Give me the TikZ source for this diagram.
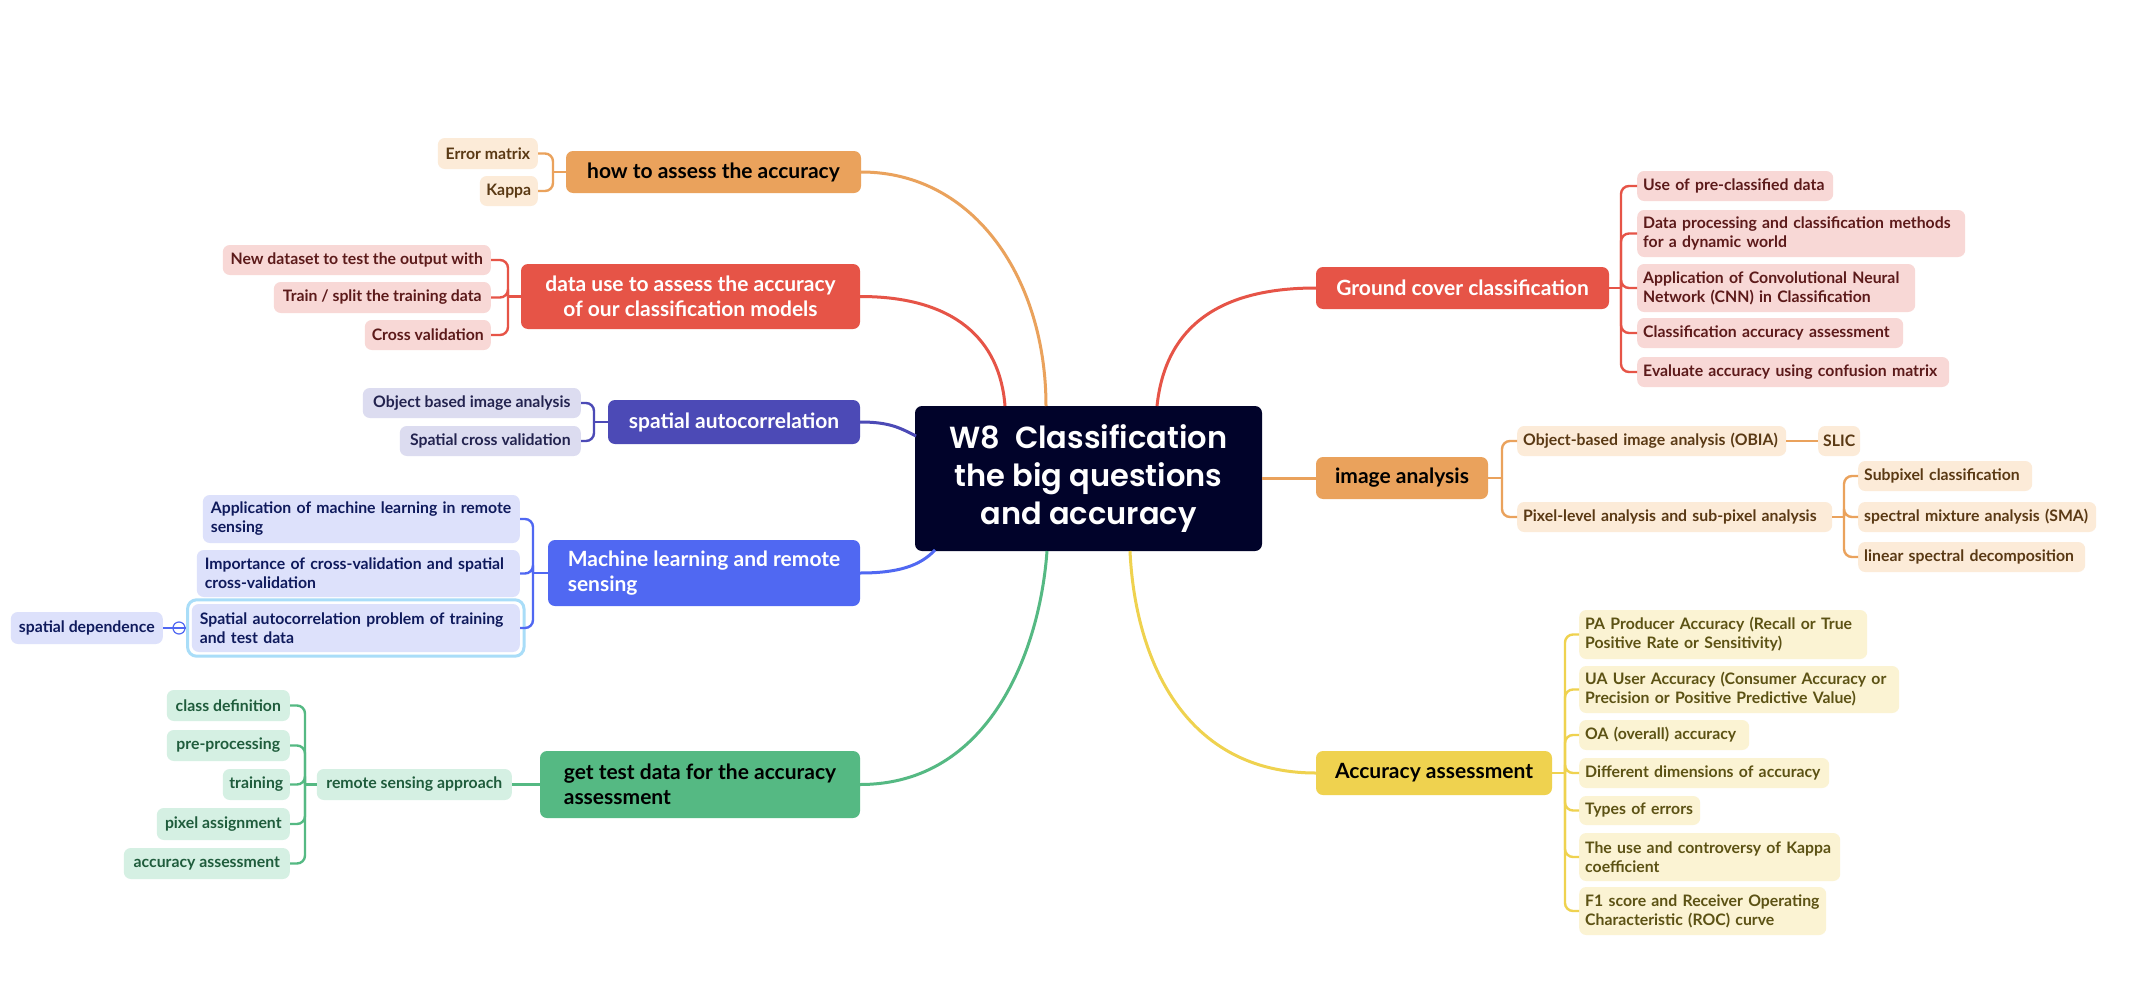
\documentclass[tikz,border=0pt]{standalone}
\usepackage{fontspec}
\setmainfont{Lato}
\newfontfamily\titlefont{Poppins SemiBold}
\usetikzlibrary{fit}
\definecolor{cnavy}{HTML}{01032A}
\definecolor{orM}{HTML}{EAA25C}\definecolor{orS}{HTML}{FCEBD8}\definecolor{orT}{HTML}{5A3914}
\definecolor{rdM}{HTML}{E65447}\definecolor{rdS}{HTML}{F8D8D6}\definecolor{rdT}{HTML}{5C1A1A}
\definecolor{inM}{HTML}{4C4AB6}\definecolor{inS}{HTML}{DCDCF0}\definecolor{inT}{HTML}{23234F}
\definecolor{blM}{HTML}{5068F2}\definecolor{blS}{HTML}{DDE1FB}\definecolor{blT}{HTML}{0F1A5C}
\definecolor{grM}{HTML}{55B983}\definecolor{grS}{HTML}{D5F0E3}\definecolor{grT}{HTML}{1F5C3C}
\definecolor{ylM}{HTML}{EFD24F}\definecolor{ylS}{HTML}{FBF3D3}\definecolor{ylT}{HTML}{5C5214}
\definecolor{hlB}{HTML}{A9DDF8}
\tikzset{
  hub/.style={fill=cnavy, rounded corners=7pt, text=white, align=center,
    font=\titlefont\fontsize{30.5}{38}\selectfont, minimum width=347pt, minimum height=145pt, inner sep=0pt},
  topic/.style={rounded corners=7pt, font=\bfseries\fontsize{21}{25}\selectfont, inner sep=0pt, align=center},
  sub/.style={rounded corners=7pt, font=\bfseries\fontsize{15.8}{19}\selectfont, inner xsep=5pt, inner ysep=0pt, align=center},
  subL/.style={sub, align=left},
  subR/.style={rounded corners=7pt, font=\bfseries\fontsize{15.8}{19}\selectfont, inner xsep=6pt, inner ysep=0pt, align=left, anchor=west},
  link/.style={line width=3pt},
  brace/.style={line width=2.4pt, rounded corners=8pt},
}
\begin{document}
\begin{tikzpicture}[x=1pt,y=-1pt]
\useasboundingbox[fill=white] (0,0) rectangle (2134,982);
% ---------- hub
\node[hub] (c) at (1088.5,478.5) {W8\ \ Classification\\the big questions\\and accuracy};
% ---------- main topics
\node[topic, fill=orM, text=black, minimum width=295pt, minimum height=42pt] (A) at (713.5,172) {how to assess the accuracy};
\node[topic, fill=rdM, text=white, minimum width=339pt, minimum height=65pt] (B) at (690.5,296.5) {data use to assess the accuracy\\of our classification models};
\node[topic, fill=inM, text=white, minimum width=252pt, minimum height=44pt] (C) at (734,422) {spatial autocorrelation};
\node[topic, fill=blM, text=white, minimum width=312pt, minimum height=66pt, align=left] (D) at (704,573) {Machine learning and remote\\sensing};
\node[topic, fill=grM, text=black, minimum width=320pt, minimum height=67pt, align=left] (E) at (700,784.5) {get test data for the accuracy\\assessment};
\node[topic, fill=rdM, text=white, minimum width=293pt, minimum height=42pt] (F) at (1462.5,288) {Ground cover classification};
\node[topic, fill=orM, text=black, minimum width=172pt, minimum height=42pt] (G) at (1402,478) {image analysis};
\node[topic, fill=ylM, text=black, minimum width=236pt, minimum height=44pt] (H) at (1434,773) {Accuracy assessment};
% ---------- A children
\node[sub, fill=orS, text=orT, minimum width=100pt, minimum height=31pt, anchor=east] (A1) at (538,153.5) {Error matrix};
\node[sub, fill=orS, text=orT, minimum width=58pt, minimum height=30pt, anchor=east] (A2) at (538,191) {Kappa};
% ---------- B children
\node[sub, fill=rdS, text=rdT, minimum width=268pt, minimum height=30pt, anchor=east] (B1) at (491,260) {New dataset to test the output with};
\node[sub, fill=rdS, text=rdT, minimum width=217pt, minimum height=31pt, anchor=east] (B2) at (491,297.5) {Train / split the training data};
\node[sub, fill=rdS, text=rdT, minimum width=126pt, minimum height=30pt, anchor=east] (B3) at (491,335) {Cross validation};
% ---------- C children
\node[sub, fill=inS, text=inT, minimum width=218pt, minimum height=30pt, anchor=east] (C1) at (581,403) {Object based image analysis};
\node[sub, fill=inS, text=inT, minimum width=181pt, minimum height=30pt, anchor=east] (C2) at (581,441) {Spatial cross validation};
% ---------- D children
\node[subL, fill=blS, text=blT, minimum width=317pt, minimum height=48pt, text width=301pt, anchor=east] (D1) at (520,519) {Application of machine learning in remote\\sensing};
\node[subL, fill=blS, text=blT, minimum width=323pt, minimum height=47pt, text width=307pt, anchor=east] (D2) at (520,573.5) {Importance of cross-validation and spatial\\cross-validation};
\node[subL, fill=blS, text=blT, minimum width=328pt, minimum height=48pt, text width=312pt, anchor=east] (D3) at (520,628) {Spatial autocorrelation problem of training\\and test data};
\node[draw=hlB, line width=3pt, rounded corners=9pt, fit=(D3), inner sep=4pt] (D3h) {};
\node[sub, fill=blS, text=blT, minimum width=152pt, minimum height=32pt, anchor=east] (D4) at (163,628) {spatial dependence};
% ---------- E children
\node[sub, fill=grS, text=grT, minimum width=195pt, minimum height=31pt, anchor=east] (E0) at (512,784.5) {remote sensing approach};
\node[sub, fill=grS, text=grT, minimum width=123pt, minimum height=31pt, anchor=east] (E1) at (290,705.5) {class definition};
\node[sub, fill=grS, text=grT, minimum width=123pt, minimum height=31pt, anchor=east] (E2) at (290,745.5) {pre-processing};
\node[sub, fill=grS, text=grT, minimum width=67pt, minimum height=31pt, anchor=east] (E3) at (290,784.5) {training};
\node[sub, fill=grS, text=grT, minimum width=133pt, minimum height=32pt, anchor=east] (E4) at (290,824) {pixel assignment};
\node[sub, fill=grS, text=grT, minimum width=166pt, minimum height=31pt, anchor=east] (E5) at (290,863.5) {accuracy assessment};
% ---------- F children
\node[subR, fill=rdS, text=rdT, minimum height=30pt, text width=184pt] (F1) at (1637,186) {\mbox{Use of pre-classified data}};
\node[subR, fill=rdS, text=rdT, minimum height=47pt, text width=316pt] (F2) at (1637,233.5) {Data processing and classification methods\\for a dynamic world};
\node[subR, fill=rdS, text=rdT, minimum height=48pt, text width=266pt] (F3) at (1637,288) {Application of Convolutional Neural\\Network (CNN) in Classification};
\node[subR, fill=rdS, text=rdT, minimum height=30pt, text width=254pt] (F4) at (1637,333) {\mbox{Classification accuracy assessment}};
\node[subR, fill=rdS, text=rdT, minimum height=30pt, text width=300pt] (F5) at (1637,372) {\mbox{Evaluate accuracy using confusion matrix}};
% ---------- G children
\node[subR, fill=orS, text=orT, minimum height=30pt, text width=257pt] (G1) at (1517,441) {\mbox{Object-based image analysis (OBIA)}};
\node[sub, fill=orS, text=orT, minimum width=42pt, minimum height=30pt, anchor=west] (G2) at (1818,441) {SLIC};
\node[subR, fill=orS, text=orT, minimum height=30pt, text width=303pt] (G3) at (1517,517) {\mbox{Pixel-level analysis and sub-pixel analysis}};
\node[subR, fill=orS, text=orT, minimum height=30pt, text width=162pt] (G4) at (1858,476) {\mbox{Subpixel classification}};
\node[subR, fill=orS, text=orT, minimum height=30pt, text width=226pt] (G5) at (1858,517) {\mbox{spectral mixture analysis (SMA)}};
\node[subR, fill=orS, text=orT, minimum height=30pt, text width=215pt] (G6) at (1858,557) {\mbox{linear spectral decomposition}};
% ---------- H children
\node[subR, fill=ylS, text=ylT, minimum height=49pt, text width=276pt] (H1) at (1579,634.5) {PA Producer Accuracy (Recall or True\\Positive Rate or Sensitivity)};
\node[subR, fill=ylS, text=ylT, minimum height=47pt, text width=308pt] (H2) at (1579,689.5) {UA User Accuracy (Consumer Accuracy or\\Precision or Positive Predictive Value)};
\node[subR, fill=ylS, text=ylT, minimum height=30pt, text width=158pt] (H3) at (1579,735) {\mbox{OA (overall) accuracy}};
\node[subR, fill=ylS, text=ylT, minimum height=30pt, text width=238pt] (H4) at (1579,773) {\mbox{Different dimensions of accuracy}};
\node[subR, fill=ylS, text=ylT, minimum height=29pt, text width=109pt] (H5) at (1579,810.5) {\mbox{Types of errors}};
\node[subR, fill=ylS, text=ylT, minimum height=48pt, text width=249pt] (H6) at (1579,857) {The use and controversy of Kappa\\coefficient};
\node[subR, fill=ylS, text=ylT, minimum height=48pt, text width=235pt] (H7) at (1579,911) {F1 score and Receiver Operating\\Characteristic (ROC) curve};
% ---------- junctions
\coordinate (aJ) at (553,172);
\coordinate (bJ) at (508,296.5);
\coordinate (cJ) at (594,422);
\coordinate (dJ) at (533,573);
\coordinate (e0J) at (305,784.5);
\coordinate (fJ) at (1621,288);
\coordinate (gJ) at (1502,478);
\coordinate (g3J) at (1844,517);
\coordinate (hJ) at (1565,773);
% hub border points
\coordinate (cA) at (1046,406);
\coordinate (cB) at (1005,406);
\coordinate (cC) at (916,436);
\coordinate (cD) at (935,550);
\coordinate (cE) at (1047,551);
\coordinate (cF) at (1157,406);
\coordinate (cH) at (1130,551);
% ---------- main links
\begin{scope}[link]
\draw[orM] (A.east) .. controls (975,172) and (1046,280) .. (cA);
\draw[rdM] (B.east) .. controls (955,296.5) and (1000,340) .. (cB);
\draw[inM] (C.east) .. controls (890,422) and (900,428) .. (cC);
\draw[blM] (D.east) .. controls (898,573) and (920,566) .. (cD);
\draw[grM] (E.east) .. controls (990,784.5) and (1040,650) .. (cE);
\draw[rdM] (F.west) .. controls (1215,288) and (1165,330) .. (cF);
\draw[orM] (c.east |- G.west) -- (G.west);
\draw[ylM] (H.west) .. controls (1185,773) and (1135,660) .. (cH);
\end{scope}
% ---------- braces
\begin{scope}[brace]
\draw[orM] (A.west) -- (aJ);
\foreach \k in {A1,A2} \draw[orM] (aJ) |- (\k.east);
\draw[rdM] (B.west) -- (bJ);
\foreach \k in {B1,B2,B3} \draw[rdM] (bJ) |- (\k.east);
\draw[inM] (C.west) -- (cJ);
\foreach \k in {C1,C2} \draw[inM] (cJ) |- (\k.east);
\draw[blM] (D.west) -- (dJ);
\foreach \k in {D1,D2,D3} \draw[blM] (dJ) |- (\k.east);
\draw[grM] (E.west) -- (E0.east);
\draw[grM] (E0.west) -- (e0J);
\foreach \k in {E1,E2,E3,E4,E5} \draw[grM] (e0J) |- (\k.east);
\draw[rdM] (F.east) -- (fJ);
\foreach \k in {F1,F2,F3,F4,F5} \draw[rdM] (fJ) |- (\k.west);
\draw[orM] (G.east) -- (gJ);
\foreach \k in {G1,G3} \draw[orM] (gJ) |- (\k.west);
\draw[orM] (G1.east) -- (G2.west);
\draw[orM] (G3.east) -- (g3J);
\foreach \k in {G4,G5,G6} \draw[orM] (g3J) |- (\k.west);
\draw[ylM] (H.east) -- (hJ);
\foreach \k in {H1,H2,H3,H4,H5,H6,H7} \draw[ylM] (hJ) |- (\k.west);
\end{scope}
% collapse marker
\draw[blM, line width=1.6pt] (D4.east) -- (D3h.west);
\node[circle, draw=blM, fill=white, line width=1.2pt, minimum size=12pt, inner sep=0pt] (mk) at (179,628) {};
\draw[blM, line width=1.2pt] (mk.west) -- (mk.east);
\end{tikzpicture}
\end{document}
